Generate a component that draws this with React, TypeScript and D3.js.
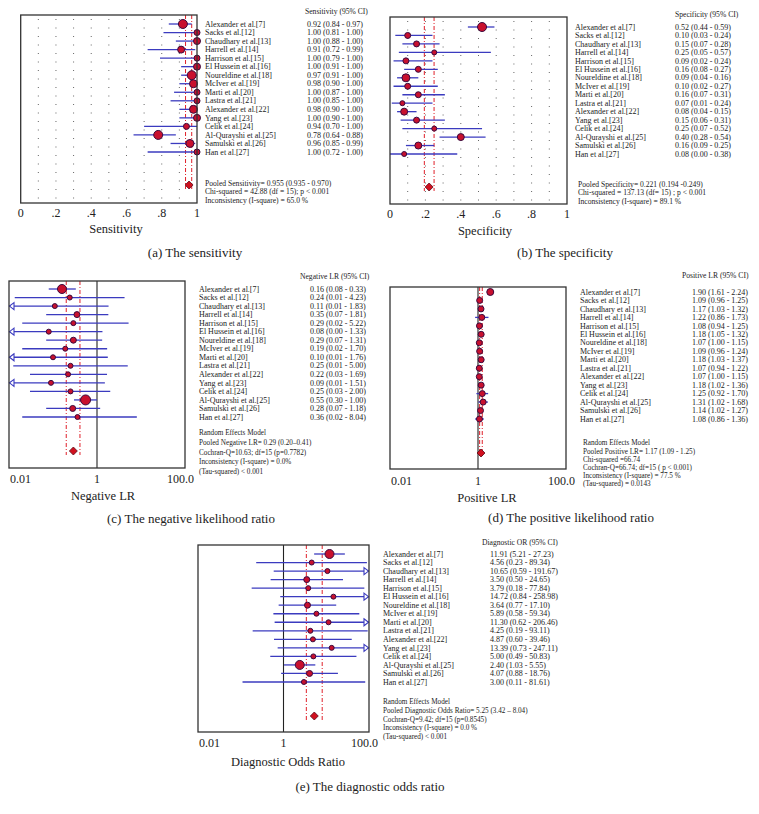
import React from 'react';
import * as d3 from 'd3';

const studies = [
  'Alexander et al.[7]', 'Sacks et al.[12]', 'Chaudhary et al.[13]', 'Harrell et al.[14]',
  'Harrison et al.[15]', 'El Hussein et al.[16]', 'Noureldine et al.[18]', 'McIver et al.[19]',
  'Marti et al.[20]', 'Lastra et al.[21]', 'Alexander et al.[22]', 'Yang et al.[23]',
  'Celik et al.[24]', 'Al-Qurayshi et al.[25]', 'Samulski et al.[26]', 'Han et al.[27]',
];

// (a) Sensitivity
const sensEst = [0.92, 1.0, 1.0, 0.91, 1.0, 1.0, 0.97, 0.98, 1.0, 1.0, 0.98, 1.0, 0.94, 0.78, 0.96, 1.0];
const sensLo = [0.84, 0.81, 0.88, 0.72, 0.79, 0.91, 0.91, 0.9, 0.87, 0.85, 0.9, 0.9, 0.7, 0.64, 0.85, 0.72];
const sensHi = [0.97, 1.0, 1.0, 0.99, 1.0, 1.0, 1.0, 1.0, 1.0, 1.0, 1.0, 1.0, 1.0, 0.88, 0.99, 1.0];
const sensW = [4.5, 3, 3.5, 3.5, 3, 3.5, 4.5, 4, 3, 3, 4, 3.5, 3, 4.5, 4, 3];
const sensText = ['0.92 (0.84 - 0.97)', '1.00 (0.81 - 1.00)', '1.00 (0.88 - 1.00)', '0.91 (0.72 - 0.99)', '1.00 (0.79 - 1.00)', '1.00 (0.91 - 1.00)', '0.97 (0.91 - 1.00)', '0.98 (0.90 - 1.00)', '1.00 (0.87 - 1.00)', '1.00 (0.85 - 1.00)', '0.98 (0.90 - 1.00)', '1.00 (0.90 - 1.00)', '0.94 (0.70 - 1.00)', '0.78 (0.64 - 0.88)', '0.96 (0.85 - 0.99)', '1.00 (0.72 - 1.00)'];
const sensPooled = [0.955, 0.935, 0.97];
const sensStats = ['Pooled Sensitivity= 0.955 (0.935 - 0.970)', 'Chi-squared = 42.88 (df = 15); p < 0.001', 'Inconsistency (I-square) = 65.0 %'];

// (b) Specificity
const specEst = [0.52, 0.1, 0.15, 0.25, 0.09, 0.16, 0.09, 0.1, 0.16, 0.07, 0.08, 0.15, 0.25, 0.4, 0.16, 0.08];
const specLo = [0.44, 0.03, 0.07, 0.05, 0.02, 0.08, 0.04, 0.02, 0.07, 0.01, 0.04, 0.06, 0.07, 0.28, 0.09, 0.0];
const specHi = [0.59, 0.24, 0.28, 0.57, 0.24, 0.27, 0.16, 0.27, 0.31, 0.24, 0.15, 0.31, 0.52, 0.54, 0.25, 0.38];
const specW = [4.5, 3, 3, 2.5, 3, 3, 4, 3, 3, 2.5, 3.5, 3, 2.5, 3.5, 3.5, 2.5];
const specText = ['0.52 (0.44 - 0.59)', '0.10 (0.03 - 0.24)', '0.15 (0.07 - 0.28)', '0.25 (0.05 - 0.57)', '0.09 (0.02 - 0.24)', '0.16 (0.08 - 0.27)', '0.09 (0.04 - 0.16)', '0.10 (0.02 - 0.27)', '0.16 (0.07 - 0.31)', '0.07 (0.01 - 0.24)', '0.08 (0.04 - 0.15)', '0.15 (0.06 - 0.31)', '0.25 (0.07 - 0.52)', '0.40 (0.28 - 0.54)', '0.16 (0.09 - 0.25)', '0.08 (0.00 - 0.38)'];
const specPooled = [0.221, 0.194, 0.249];
const specStats = ['Pooled Specificity= 0.221 (0.194 -0.249)', 'Chi-squared = 137.13 (df= 15) ; p < 0.001', 'Inconsistency (I-square) = 89.1 %'];

// (c) Negative LR
const nlrEst = [0.16, 0.24, 0.11, 0.35, 0.29, 0.08, 0.29, 0.19, 0.1, 0.25, 0.22, 0.09, 0.25, 0.55, 0.28, 0.36];
const nlrLo = [0.08, 0.0135, 0.006, 0.07, 0.02, 0.004, 0.07, 0.02, 0.006, 0.0125, 0.03, 0.006, 0.03, 0.3, 0.07, 0.02];
const nlrHi = [0.33, 4.23, 1.83, 1.81, 5.22, 1.33, 1.31, 1.7, 1.76, 5.0, 1.69, 1.51, 2.0, 1.0, 1.18, 8.04];
const nlrW = [4.5, 2.5, 2.5, 3, 2.5, 2.5, 3, 2.5, 2.5, 2.5, 2.5, 2.5, 2.5, 5, 3, 2.5];
const nlrText = ['0.16 (0.08 - 0.33)', '0.24 (0.01 - 4.23)', '0.11 (0.01 - 1.83)', '0.35 (0.07 - 1.81)', '0.29 (0.02 - 5.22)', '0.08 (0.00 - 1.33)', '0.29 (0.07 - 1.31)', '0.19 (0.02 - 1.70)', '0.10 (0.01 - 1.76)', '0.25 (0.01 - 5.00)', '0.22 (0.03 - 1.69)', '0.09 (0.01 - 1.51)', '0.25 (0.03 - 2.00)', '0.55 (0.30 - 1.00)', '0.28 (0.07 - 1.18)', '0.36 (0.02 - 8.04)'];
const nlrPooled = [0.29, 0.2, 0.41];
const nlrStats = ['Random Effects Model', 'Pooled Negative LR= 0.29 (0.20–0.41)', 'Cochran-Q=10.63; df=15 (p=0.7782)', 'Inconsistency (I-square) = 0.0%', '(Tau-squared) < 0.001'];

// (d) Positive LR
const plrEst = [1.9, 1.09, 1.17, 1.22, 1.08, 1.18, 1.07, 1.09, 1.18, 1.07, 1.07, 1.18, 1.25, 1.31, 1.14, 1.08];
const plrLo = [1.61, 0.96, 1.03, 0.86, 0.94, 1.05, 1.0, 0.96, 1.03, 0.94, 1.0, 1.02, 0.92, 1.02, 1.02, 0.86];
const plrHi = [2.24, 1.25, 1.32, 1.73, 1.25, 1.32, 1.15, 1.24, 1.37, 1.22, 1.15, 1.36, 1.7, 1.68, 1.27, 1.36];
const plrW = [3.5, 3, 3, 3, 3, 3, 3, 3, 3, 3, 3, 3, 3, 3, 3, 3];
const plrText = ['1.90 (1.61 - 2.24)', '1.09 (0.96 - 1.25)', '1.17 (1.03 - 1.32)', '1.22 (0.86 - 1.73)', '1.08 (0.94 - 1.25)', '1.18 (1.05 - 1.32)', '1.07 (1.00 - 1.15)', '1.09 (0.96 - 1.24)', '1.18 (1.03 - 1.37)', '1.07 (0.94 - 1.22)', '1.07 (1.00 - 1.15)', '1.18 (1.02 - 1.36)', '1.25 (0.92 - 1.70)', '1.31 (1.02 - 1.68)', '1.14 (1.02 - 1.27)', '1.08 (0.86 - 1.36)'];
const plrPooled = [1.17, 1.09, 1.25];
const plrStats = ['Random Effects Model', 'Pooled Positive LR= 1.17 (1.09 - 1.25)', 'Chi-squared =66.74', 'Cochran-Q=66.74; df=15 ( p < 0.001)', 'Inconsistency (I-square) = 77.5 %', '(Tau-squared) = 0.0143'];

// (e) Diagnostic OR
const dorEst = [11.91, 4.56, 10.65, 3.5, 3.79, 14.72, 3.64, 5.89, 11.3, 4.25, 4.87, 13.39, 5.0, 2.4, 4.07, 3.0];
const dorLo = [5.21, 0.23, 0.59, 0.5, 0.18, 0.84, 0.77, 0.58, 0.62, 0.19, 0.6, 0.73, 0.49, 1.03, 0.88, 0.11];
const dorHi = [27.23, 89.34, 191.67, 24.65, 77.84, 258.98, 17.1, 59.34, 206.46, 93.11, 39.46, 247.11, 50.83, 5.55, 18.76, 81.61];
const dorW = [4.5, 2.5, 2.5, 3, 2.5, 2.5, 3, 2.5, 2.5, 2.5, 2.5, 2.5, 2.5, 4.5, 3, 2.5];
const dorText = ['11.91 (5.21 - 27.23)', '4.56 (0.23 - 89.34)', '10.65 (0.59 - 191.67)', '3.50 (0.50 - 24.65)', '3.79 (0.18 - 77.84)', '14.72 (0.84 - 258.98)', '3.64 (0.77 - 17.10)', '5.89 (0.58 - 59.34)', '11.30 (0.62 - 206.46)', '4.25 (0.19 - 93.11)', '4.87 (0.60 - 39.46)', '13.39 (0.73 - 247.11)', '5.00 (0.49 - 50.83)', '2.40 (1.03 - 5.55)', '4.07 (0.88 - 18.76)', '3.00 (0.11 - 81.61)'];
const dorPooled = [5.25, 3.42, 8.04];
const dorStats = ['Random Effects Model', 'Pooled Diagnostic Odds Ratio= 5.25 (3.42 – 8.04)', 'Cochran-Q=9.42; df=15 (p=0.8545)', 'Inconsistency (I-square) = 0.0 %', '(Tau-squared) < 0.001'];

const linTicks = [0, 0.2, 0.4, 0.6, 0.8, 1];
const linTickLabels = ['0', '.2', '.4', '.6', '.8', '1'];
const logTicks = [0.01, 1, 100];
const logTickLabels = ['0.01', '1', '100.0'];

const FONT = '"Liberation Serif", "Times New Roman", serif';
const BLUE = '#3b3bbf';
const RED = '#e0202a';

type Panel = {
  est: number[]; lo: number[]; hi: number[]; w: number[]; text: string[];
  pooled: number[]; stats: string[]; header: string; title: string; caption: string;
  log: boolean;
  x0: number; x1: number; y0: number; y1: number;
  rowTop: number; rowBot: number;
  nameX: number; valX: number; headerX: number; headerY: number;
  diamondY: number; statsX: number; statsY: number; statsDy: number; statsSize: number;
  tickY: number; titleX: number; titleY: number; capX: number; capY: number;
};

const panels: Panel[] = [
  {
    est: sensEst, lo: sensLo, hi: sensHi, w: sensW, text: sensText, pooled: sensPooled, stats: sensStats,
    header: 'Sensitivity (95% CI)', title: 'Sensitivity', caption: '(a)  The sensitivity', log: false,
    x0: 20.7, x1: 197, y0: 15, y1: 203, rowTop: 24, rowBot: 152,
    nameX: 205, valX: 307, headerX: 305, headerY: 11,
    diamondY: 185, statsX: 205, statsY: 183, statsDy: 8.6, statsSize: 7.6,
    tickY: 213, titleX: 116, titleY: 228.5, capX: 195, capY: 253,
  },
  {
    est: specEst, lo: specLo, hi: specHi, w: specW, text: specText, pooled: specPooled, stats: specStats,
    header: 'Specificity (95% CI)', title: 'Specificity', caption: '(b)  The specificity', log: false,
    x0: 390, x1: 567, y0: 17, y1: 204, rowTop: 27, rowBot: 154,
    nameX: 575, valX: 675, headerX: 675, headerY: 14,
    diamondY: 187, statsX: 578, statsY: 184, statsDy: 8.6, statsSize: 7.6,
    tickY: 214.5, titleX: 485, titleY: 230.5, capX: 565, capY: 253,
  },
  {
    est: nlrEst, lo: nlrLo, hi: nlrHi, w: nlrW, text: nlrText, pooled: nlrPooled, stats: nlrStats,
    header: 'Negative LR (95% CI)', title: 'Negative LR', caption: '(c)  The negative likelihood ratio', log: true,
    x0: 9, x1: 185, y0: 281, y1: 468, rowTop: 289, rowBot: 417,
    nameX: 199, valX: 310, headerX: 300, headerY: 276,
    diamondY: 451, statsX: 199, statsY: 433, statsDy: 9.7, statsSize: 7.2,
    tickY: 479, titleX: 103, titleY: 495.5, capX: 191, capY: 519,
  },
  {
    est: plrEst, lo: plrLo, hi: plrHi, w: plrW, text: plrText, pooled: plrPooled, stats: plrStats,
    header: 'Positive LR (95% CI)', title: 'Positive LR', caption: '(d)  The positive likelihood ratio', log: true,
    x0: 390, x1: 566, y0: 287, y1: 469, rowTop: 292, rowBot: 419,
    nameX: 580, valX: 692, headerX: 682, headerY: 275,
    diamondY: 453, statsX: 583, statsY: 443, statsDy: 8.2, statsSize: 7.2,
    tickY: 481, titleX: 487, titleY: 498, capX: 571, capY: 518,
  },
  {
    est: dorEst, lo: dorLo, hi: dorHi, w: dorW, text: dorText, pooled: dorPooled, stats: dorStats,
    header: 'Diagnostic OR (95% CI)', title: 'Diagnostic Odds Ratio', caption: '(e)  The diagnostic odds ratio', log: true,
    x0: 198, x1: 369, y0: 545, y1: 732, rowTop: 554, rowBot: 682,
    nameX: 383, valX: 490, headerX: 482, headerY: 542,
    diamondY: 716, statsX: 383, statsY: 702, statsDy: 8.7, statsSize: 7.2,
    tickY: 743, titleX: 288, titleY: 762, capX: 370, capY: 787,
  },
];

function ForestPanel({ p }: { p: Panel }) {
  const x = p.log
    ? d3.scaleLog().domain([0.01, 100]).range([p.x0, p.x1])
    : d3.scaleLinear().domain([0, 1]).range([p.x0, p.x1]);
  const y = d3.scalePoint<number>().domain(d3.range(studies.length)).range([p.rowTop, p.rowBot]);
  const dmin = p.log ? 0.01 : 0;
  const dmax = p.log ? 100 : 1;
  const clamp = (v: number) => Math.max(dmin, Math.min(dmax, v));
  const ticks = p.log ? logTicks : linTicks;
  const tickLabels = p.log ? logTickLabels : linTickLabels;
  const grid = p.log ? [] : d3.range(1, 10).map((k) => k / 10);
  const [pe, plo, phi] = p.pooled;
  const dy = p.diamondY;
  const diamond = d3.line()([
    [x(pe) - 4, dy], [x(pe), dy - 4], [x(pe) + 4, dy], [x(pe), dy + 4], [x(pe) - 4, dy],
  ]) as string;

  return (
    <g fontFamily={FONT} fill="#222">
      {grid.map((g) => (
        <line key={'g' + g} x1={x(g)} x2={x(g)} y1={p.y0 + 4} y2={p.y1} stroke="#666" strokeWidth={1} strokeDasharray="1,7.5" />
      ))}
      {p.log && <line x1={x(1)} x2={x(1)} y1={p.y0} y2={p.y1} stroke="#222" strokeWidth={1.1} />}
      {[plo, phi].map((v, i) => (
        <line key={'r' + i} x1={x(v)} x2={x(v)} y1={p.y0} y2={dy + 4} stroke={RED} strokeWidth={1} strokeDasharray="4,2,1,2" />
      ))}
      {studies.map((s, i) => {
        const yy = y(i) as number;
        const a = x(clamp(p.lo[i]));
        const b = x(clamp(p.hi[i]));
        return (
          <g key={'s' + i}>
            <line x1={a} x2={b} y1={yy} y2={yy} stroke={BLUE} strokeWidth={1.3} />
            {p.lo[i] < dmin && (
              <path d={`M${p.x0 + 5},${yy - 3.5}L${p.x0 + 0.5},${yy}L${p.x0 + 5},${yy + 3.5}Z`} fill="white" stroke={BLUE} strokeWidth={1.1} />
            )}
            {p.hi[i] > dmax && (
              <path d={`M${p.x1 - 5},${yy - 3.5}L${p.x1 - 0.5},${yy}L${p.x1 - 5},${yy + 3.5}Z`} fill="white" stroke={BLUE} strokeWidth={1.1} />
            )}
            <circle cx={x(p.est[i])} cy={yy} r={p.w[i]} fill="#c8102e" stroke="#3a0a3e" strokeWidth={1} />
            <text x={p.nameX} y={yy} dy="0.33em" fontSize={8}>{s}</text>
            <text x={p.valX} y={yy} dy="0.33em" fontSize={8}>{p.text[i]}</text>
          </g>
        );
      })}
      <path d={diamond} fill="#d0101e" stroke="#5a0a1a" strokeWidth={0.8} />
      <rect x={p.x0} y={p.y0} width={p.x1 - p.x0} height={p.y1 - p.y0} fill="none" stroke="#333" strokeWidth={1.3} />
      <text x={p.headerX} y={p.headerY} dy="0.33em" fontSize={7.6}>{p.header}</text>
      {p.stats.map((t, i) => (
        <text key={'t' + i} x={p.statsX} y={p.statsY + i * p.statsDy} dy="0.33em" fontSize={p.statsSize}>{t}</text>
      ))}
      {ticks.map((t, i) => {
        let anchor: 'start' | 'middle' | 'end' = 'middle';
        let tx = x(t);
        if (p.log && i === 0) { anchor = 'start'; tx = p.x0 + 1; }
        if (p.log && i === 2) { anchor = 'end'; tx = p.x1 + 9; }
        return (
          <text key={'k' + i} x={tx} y={p.tickY} dy="0.33em" fontSize={12} textAnchor={anchor}>{tickLabels[i]}</text>
        );
      })}
      <text x={p.titleX} y={p.titleY} dy="0.33em" fontSize={12.5} textAnchor="middle">{p.title}</text>
      <text x={p.capX} y={p.capY} dy="0.33em" fontSize={13} textAnchor="middle">{p.caption}</text>
    </g>
  );
}

export default function App() {
  return (
    <svg width={759} height={814} style={{ position: 'absolute', left: 0, top: 0, background: 'white' }}>
      <rect x={0} y={0} width={759} height={814} fill="white" />
      {panels.map((p, i) => (
        <ForestPanel key={i} p={p} />
      ))}
    </svg>
  );
}
